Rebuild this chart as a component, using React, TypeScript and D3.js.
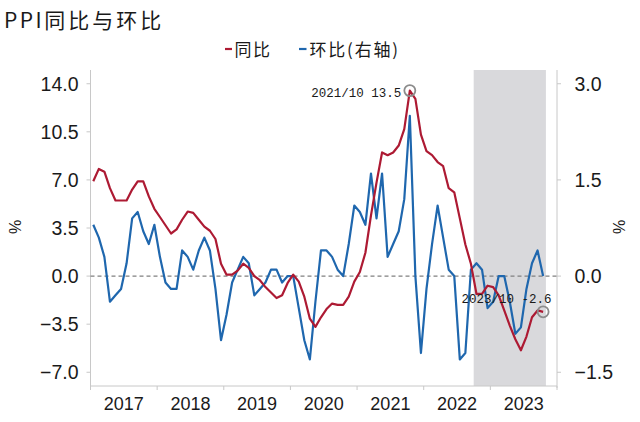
import React from 'react';
import * as d3 from 'd3';

// PPI YoY (left axis) and MoM (right axis), monthly from 2017-01
const years = ['2017', '2018', '2019', '2020', '2021', '2022', '2023'];
const yoy = [
  6.9, 7.8, 7.6, 6.4, 5.5, 5.5, 5.5, 6.3, 6.9, 6.9, 5.8, 4.9,
  4.3, 3.7, 3.1, 3.4, 4.1, 4.7, 4.6, 4.1, 3.6, 3.3, 2.7, 0.9,
  0.1, 0.1, 0.4, 0.9, 0.6, 0.0, -0.3, -0.8, -1.2, -1.6, -1.4, -0.5,
  0.1, -0.4, -1.5, -3.1, -3.7, -3.0, -2.4, -2.0, -2.1, -2.1, -1.5, -0.4,
  0.3, 1.7, 4.4, 6.8, 9.0, 8.8, 9.0, 9.5, 10.7, 13.5, 12.9, 10.3,
  9.1, 8.8, 8.3, 8.0, 6.4, 6.1, 4.2, 2.3, 0.9, -1.3, -1.3, -0.7,
  -0.8, -1.4, -2.5, -3.6, -4.6, -5.4, -4.4, -3.0, -2.5, -2.6,
];
const mom = [
  0.8, 0.6, 0.3, -0.4, -0.3, -0.2, 0.2, 0.9, 1.0, 0.7, 0.5, 0.8,
  0.3, -0.1, -0.2, -0.2, 0.4, 0.3, 0.1, 0.4, 0.6, 0.4, -0.2, -1.0,
  -0.6, -0.1, 0.1, 0.3, 0.2, -0.3, -0.2, -0.1, 0.1, 0.1, -0.1, 0.0,
  0.0, -0.5, -1.0, -1.3, -0.4, 0.4, 0.4, 0.3, 0.1, 0.0, 0.5, 1.1,
  1.0, 0.8, 1.6, 0.9, 1.6, 0.3, 0.5, 0.7, 1.2, 2.5, 0.0, -1.2,
  -0.2, 0.5, 1.1, 0.6, 0.1, 0.0, -1.3, -1.2, 0.1, 0.2, 0.1, -0.5,
  -0.4, 0.0, 0.0, -0.4, -0.9, -0.8, -0.2, 0.2, 0.4, 0.0,
];
const leftTicks = [-7, -3.5, 0, 3.5, 7, 10.5, 14];
const rightTicks = [-1.5, 0, 1.5, 3.0];
const shadeFrom = '2022-10';
const shadeTo = '2023-10';
const notes = [
  { month: '2021-10', value: 13.5, label: '2021/10 13.5', pos: 'left' },
  { month: '2023-10', value: -2.6, label: '2023/10 -2.6', pos: 'above' },
];

const RED = '#ad1a33';
const BLUE = '#1f67ae';
const AXIS = '#c8c8c8';

const months = years.flatMap((y) => d3.range(1, 13).map((m) => `${y}-${String(m).padStart(2, '0')}`));

export default function App() {
  const W = 640, H = 422;
  const L = 90.5, R = 557, T = 70, B = 386;

  const x = d3.scaleBand<string>().domain(months).range([L, R]).padding(0);
  const bw = x.bandwidth();
  const cx = (m: string) => (x(m) as number) + bw / 2;
  const yL = d3.scaleLinear().domain([-8, 15]).range([B, T]);
  const yR = d3.scaleLinear().domain([-8 * 3 / 14, 15 * 3 / 14]).range([B, T]);

  const lineL = d3.line<number>().x((_, i) => cx(months[i])).y((d) => yL(d));
  const lineR = d3.line<number>().x((_, i) => cx(months[i])).y((d) => yR(d));
  const fmt = d3.format('.1f');
  const tickFont = '"Liberation Sans", Arial, sans-serif';
  const cjk = '"Noto Sans CJK SC", sans-serif';

  return (
    <svg width={W} height={H} style={{ position: 'absolute', left: 0, top: 0, background: '#fff' }}>
      <text x={4} y={28} fontFamily={cjk} fontSize={21} fill="#1a1a1a">
        <tspan letterSpacing={2.5}>PPI</tspan>
        <tspan letterSpacing={3}>同比与环比</tspan>
      </text>

      {/* legend */}
      <line x1={225} x2={232} y1={49} y2={49} stroke={RED} strokeWidth={2.2} />
      <text x={234.5} y={56} fontFamily={cjk} fontSize={17} fill="#1a1a1a" letterSpacing={1.5}>同比</text>
      <line x1={299} x2={306.5} y1={49} y2={49} stroke={BLUE} strokeWidth={2.2} />
      <text x={309.5} y={56} fontFamily={cjk} fontSize={17} fill="#1a1a1a" letterSpacing={1.8}>环比(右轴)</text>

      {/* shaded period */}
      <rect x={x(shadeFrom) as number} y={T} width={(x(shadeTo) as number) + bw - (x(shadeFrom) as number)} height={B - T} fill="#d9d9dc" />

      {/* axes */}
      <line x1={L} x2={L} y1={T} y2={B + 2} stroke={AXIS} />
      <line x1={R} x2={R} y1={T} y2={B + 2} stroke={AXIS} />
      <line x1={L} x2={R} y1={B} y2={B} stroke={AXIS} />
      {leftTicks.map((t) => (
        <g key={'l' + t}>
          <line x1={L - 4} x2={L} y1={yL(t)} y2={yL(t)} stroke={AXIS} />
          <text x={78.5} y={yL(t)} dy="0.36em" textAnchor="end" fontFamily={tickFont} fontSize={19.5} fill="#1a1a1a">{fmt(t)}</text>
        </g>
      ))}
      {rightTicks.map((t) => (
        <g key={'r' + t}>
          <line x1={R} x2={R + 4} y1={yR(t)} y2={yR(t)} stroke={AXIS} />
          <text x={574.5} y={yR(t)} dy="0.36em" fontFamily={tickFont} fontSize={19.5} fill="#1a1a1a">{fmt(t)}</text>
        </g>
      ))}
      {years.map((y) => (
        <g key={y}>
          <line x1={x(`${y}-01`) as number} x2={x(`${y}-01`) as number} y1={B} y2={B + 4} stroke={AXIS} />
          <text x={(x(`${y}-01`) as number) + bw * 6} y={409.5} textAnchor="middle" fontFamily={tickFont} fontSize={18} fill="#1a1a1a">{y}</text>
        </g>
      ))}
      <line x1={R} x2={R} y1={B} y2={B + 4} stroke={AXIS} />
      <text transform={`translate(21,227) rotate(-90)`} textAnchor="middle" fontFamily={tickFont} fontSize={16} fill="#1a1a1a">%</text>
      <text transform={`translate(625,227) rotate(-90)`} textAnchor="middle" fontFamily={tickFont} fontSize={16} fill="#1a1a1a">%</text>

      {/* zero line */}
      <line x1={L} x2={R} y1={yL(0)} y2={yL(0)} stroke="#808080" strokeWidth={1.2} strokeDasharray="4,3" />

      <path d={lineR(mom) as string} fill="none" stroke={BLUE} strokeWidth={2.2} strokeLinejoin="round" />
      <path d={lineL(yoy) as string} fill="none" stroke={RED} strokeWidth={2.2} strokeLinejoin="round" />

      {notes.map((n) => {
        const px = cx(n.month), py = yL(n.value);
        return (
          <g key={n.month}>
            <circle cx={px} cy={py} r={5.5} fill="none" stroke="#8c8c8c" strokeWidth={1.8} />
            <text
              x={n.pos === 'left' ? px - 8.5 : px + 8.5}
              y={n.pos === 'left' ? py + 6.5 : py - 8.5}
              textAnchor="end" fontFamily='"Liberation Mono", monospace' fontSize={12.5} fill="#1a1a1a">{n.label}</text>
          </g>
        );
      })}
    </svg>
  );
}
